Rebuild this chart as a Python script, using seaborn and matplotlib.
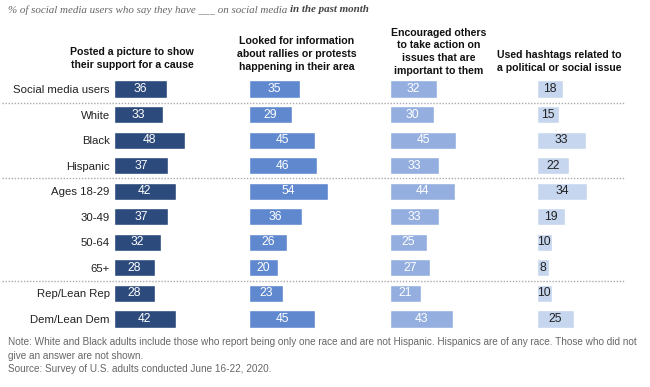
import matplotlib
matplotlib.use("Agg")
import matplotlib.pyplot as plt
from matplotlib.lines import Line2D
import pandas as pd
import seaborn as sns

groups = ["Social media users", "White", "Black", "Hispanic", "Ages 18-29",
          "30-49", "50-64", "65+", "Rep/Lean Rep", "Dem/Lean Dem"]
posted = [36, 33, 48, 37, 42, 37, 32, 28, 28, 42]
looked = [35, 29, 45, 46, 54, 36, 26, 20, 23, 45]
encouraged = [32, 30, 45, 33, 44, 33, 25, 27, 21, 43]
hashtags = [18, 15, 33, 22, 34, 19, 10, 8, 10, 25]

headers = ["Posted a picture to show\ntheir support for a cause",
           "Looked for information\nabout rallies or protests\nhappening in their area",
           "Encouraged others\nto take action on\nissues that are\nimportant to them",
           "Used hashtags related to\na political or social issue"]
colors = ["#2c4a7c", "#5f88cf", "#94afdf", "#c6d6ef"]
text_colors = ["white", "white", "white", "#222222"]

W, H = 650, 387
sns.set_style("white")
plt.rcParams["font.family"] = ["Liberation Sans", "DejaVu Sans"]

fig = plt.figure(figsize=(W / 100, H / 100), dpi=100)

px_per_unit = 1.47
col_left = [114, 249, 390, 537]
col_width = 100
header_center = [132, 297, 439, 559]
header_bottom = [70, 72, 76, 73]
top_px, bottom_px = 76.25, 331.75

series = [posted, looked, encouraged, hashtags]
for i, vals in enumerate(series):
    ax = fig.add_axes([col_left[i] / W, 1 - bottom_px / H,
                       col_width / W, (bottom_px - top_px) / H])
    df = pd.DataFrame({"group": groups, "value": vals})
    sns.barplot(data=df, x="value", y="group", color=colors[i], width=0.67,
                saturation=1, ax=ax)
    ax.set_xlim(0, col_width / px_per_unit)
    ax.set_ylim(len(groups) - 0.5, -0.5)
    ax.bar_label(ax.containers[0], label_type="center", color=text_colors[i],
                 fontsize=8.7)
    ax.set_xlabel("")
    ax.set_ylabel("")
    ax.set_xticks([])
    ax.tick_params(axis="y", length=0, pad=3, labelsize=8.2, labelcolor="#222222")
    if i > 0:
        ax.set_yticklabels([])
    sns.despine(ax=ax, left=True, bottom=True)
    fig.text(header_center[i] / W, 1 - header_bottom[i] / H, headers[i], ha="center",
             va="bottom", fontsize=7.6, fontweight="bold", linespacing=1.35,
             color="#111111")

# dotted separators between groups
for y in [102.5, 178.5, 280.5]:
    fig.add_artist(Line2D([2 / W, 625 / W], [1 - y / H, 1 - y / H], color="#aaaaaa",
                          linestyle=(0, (1, 1.2)), linewidth=1.0))

# subtitle
serif = ["Liberation Serif", "DejaVu Serif"]
t1 = fig.text(8 / W, 1 - 10 / H, "% of social media users who say they have ___ on social media ",
              ha="left", va="center", fontsize=7.9, style="italic", color="#666666",
              family=serif)
fig.canvas.draw()
bb = t1.get_window_extent()
fig.text(bb.x1 / W, 1 - 10 / H, "in the past month", ha="left", va="center",
         fontsize=7.9, style="italic", fontweight="bold", color="#444444", family=serif)

note = ("Note: White and Black adults include those who report being only one race and are not Hispanic. "
        "Hispanics are of any race. Those who did not\ngive an answer are not shown.\n"
        "Source: Survey of U.S. adults conducted June 16-22, 2020.")
fig.text(8 / W, 1 - 337 / H, note, ha="left", va="top", fontsize=7.2, color="#666666",
         linespacing=1.45)

fig.savefig("out.png", dpi=100)
